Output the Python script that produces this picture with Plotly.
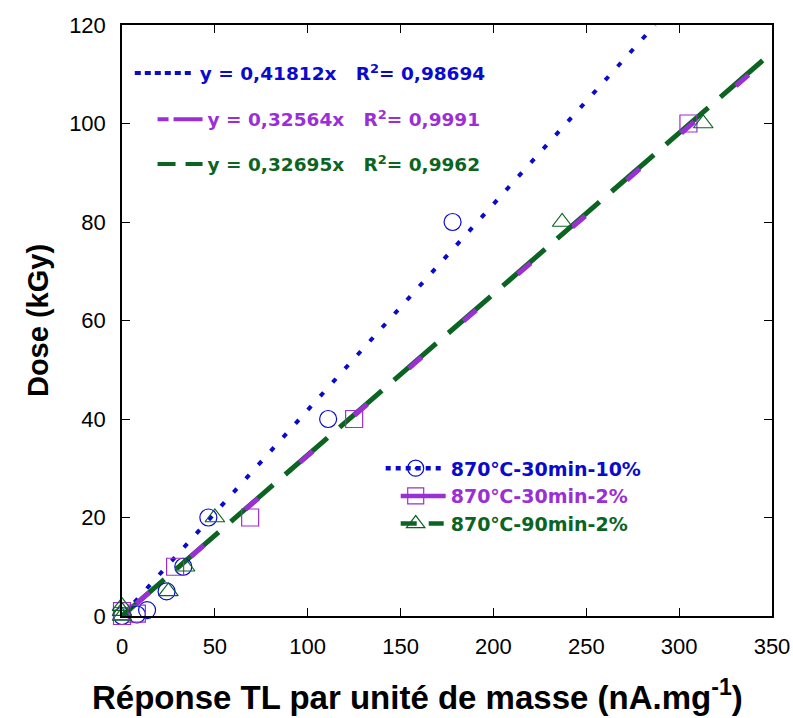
import plotly.graph_objects as go

# ---- data ----
x_10pct = [0, 8, 13.5, 24, 33, 46.5, 111, 178]
y_10pct = [0, 0.3, 1.2, 5, 10, 20, 40, 80]

x_30_2 = [0, 0, 8, 28.6, 69, 125, 305]
y_30_2 = [0, 1, 0.5, 10, 20, 40, 100]

x_90_2 = [0, 0, 0, 25, 34, 50, 237, 313]
y_90_2 = [0, 1, 2, 5, 10, 20, 80, 100]

slopes = [0.41812, 0.32564, 0.32695]
r2 = ["0,98694", "0,9991", "0,9962"]
slope_txt = ["0,41812", "0,32564", "0,32695"]
fit_xmax = [120 / 0.41812, 350, 350]
names = ["870℃-30min-10%", "870℃-30min-2%", "870℃-90min-2%"]

BLUE = "#0A0ACD"
PURPLE = "#9B2FD6"
GREEN = "#0B6422"
colors = [BLUE, PURPLE, GREEN]

x_ticks = [0, 50, 100, 150, 200, 250, 300, 350]
y_ticks = [0, 20, 40, 60, 80, 100, 120]

EQ_FONT = "DejaVu Sans"
fig = go.Figure()

# fit lines (green under purple so white gaps appear where both are off)
fit_dash = ["5px,13.5px", "0px,19px,17px,36px", "56px,16px"]
fit_width = [4, 5, 5]
for i in [0, 2, 1]:
    xs = [0, fit_xmax[i]]
    ys = [slopes[i] * v for v in xs]
    fig.add_trace(go.Scatter(
        x=xs, y=ys, mode="lines", showlegend=False, hoverinfo="skip",
        line=dict(color=colors[i], width=fit_width[i], dash=fit_dash[i]),
    ))

# equation legends (line samples only)
eq_dash = ["6px,4px", "11px,5px,30px,100px", "18px,10px,17px,100px"]
eq_legends = ["legend2", "legend3", "legend4"]
for i in range(3):
    fig.add_trace(go.Scatter(
        x=[None], y=[None], mode="lines",
        line=dict(color=colors[i], width=4, dash=eq_dash[i]),
        name=f"<span style='color:{colors[i]}'>y = {slope_txt[i]}x   R<sup>2</sup>= {r2[i]}</span>",
        legend=eq_legends[i], showlegend=True,
    ))

# data markers
marker_sets = [
    (x_10pct, y_10pct, "circle-open"),
    (x_30_2, y_30_2, "square-open"),
    (x_90_2, y_90_2, "triangle-up-open"),
]
for i, (xs, ys, sym) in enumerate(marker_sets):
    fig.add_trace(go.Scatter(
        x=xs, y=ys, mode="markers", cliponaxis=False, showlegend=False,
        marker=dict(symbol=sym, size=17, color=colors[i], line=dict(width=1.2, color=colors[i])),
    ))

# legend entries (line + marker samples)
leg_dash = ["5px,5px", "0px,15px,45px,100px", "0px,15px,16px,12px,15px,100px"]
leg_sym = ["circle-open-dot", "square-open", "triangle-up-open"]
for i in range(3):
    fig.add_trace(go.Scatter(
        x=[None], y=[None], mode="lines+markers",
        line=dict(color=colors[i], width=4.5, dash=leg_dash[i]),
        marker=dict(symbol=leg_sym[i], size=16, color=colors[i], line=dict(width=1.2, color=colors[i])),
        name=f"<span style='color:{colors[i]}'>{names[i]}</span>",
        legend="legend", showlegend=True,
    ))

axis_common = dict(
    showline=True, linecolor="black", linewidth=1.5, mirror="allticks",
    ticks="inside", ticklen=8, tickwidth=1.2, tickcolor="black",
    showgrid=False, zeroline=False, automargin=False,
    tickfont=dict(family="Arial, Liberation Sans", size=22, color="black"),
)

fig.update_layout(
    width=793, height=718,
    margin=dict(l=122, r=21, t=25, b=102),
    paper_bgcolor="white", plot_bgcolor="white",
    xaxis=dict(range=[0, 350], tickvals=x_ticks, ticklabelstandoff=10, **axis_common),
    yaxis=dict(range=[0, 120], tickvals=y_ticks, ticklabelstandoff=10,
               title=dict(text="<b>Dose (kGy)</b>",
                          font=dict(family="Arial, Liberation Sans", size=29, color="black"), standoff=12),
               **axis_common),
    annotations=[dict(
        text="<b>Réponse TL par unité de masse (nA.mg<sup>-1</sup>)</b>",
        xref="paper", yref="paper", x=0.455, y=-0.134, xanchor="center", yanchor="middle",
        showarrow=False, font=dict(family="Arial, Liberation Sans", size=33, color="black"),
    )],
    legend=dict(x=0.398, y=0.282, xanchor="left", yanchor="top", bgcolor="rgba(0,0,0,0)",
                font=dict(family=EQ_FONT, size=19, weight="bold"), itemwidth=60, tracegroupgap=0),
    legend2=dict(x=0.012, y=0.95, xanchor="left", yanchor="top", bgcolor="rgba(0,0,0,0)",
                 font=dict(family=EQ_FONT, size=18.5, weight="bold"), itemwidth=60),
    legend3=dict(x=0.047, y=0.872, xanchor="left", yanchor="top", bgcolor="rgba(0,0,0,0)",
                 font=dict(family=EQ_FONT, size=18.5, weight="bold"), itemwidth=45),
    legend4=dict(x=0.047, y=0.796, xanchor="left", yanchor="top", bgcolor="rgba(0,0,0,0)",
                 font=dict(family=EQ_FONT, size=18.5, weight="bold"), itemwidth=45),
)

fig.write_html("out.html")
